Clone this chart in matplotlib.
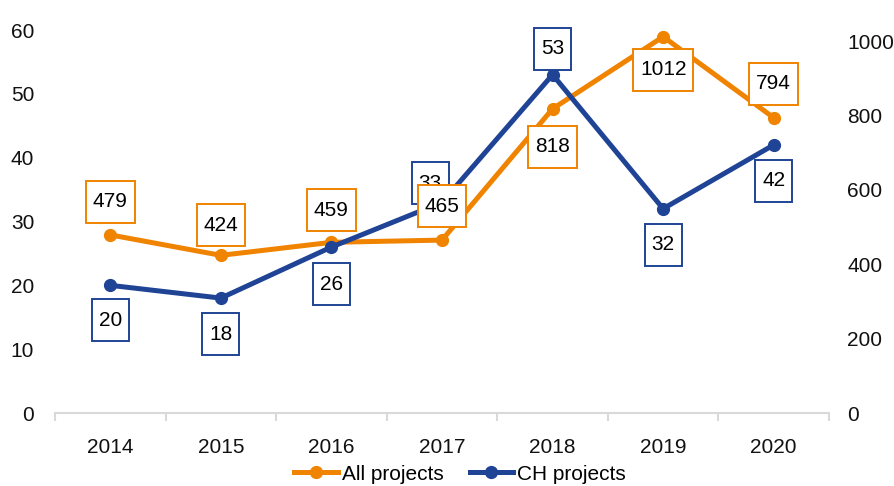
import matplotlib
matplotlib.use("Agg")
import matplotlib.pyplot as plt
import numpy as np
from matplotlib.lines import Line2D
from matplotlib.path import Path

years = ["2014", "2015", "2016", "2017", "2018", "2019", "2020"]
all_projects = [479, 424, 459, 465, 818, 1012, 794]
ch_projects = [20, 18, 26, 33, 53, 32, 42]
left_ticks = [0, 10, 20, 30, 40, 50, 60]
right_ticks = [0, 200, 400, 600, 800, 1000]

ORANGE = "#F08300"
BLUE = "#1F4395"

plt.rcParams["font.family"] = ["Liberation Sans", "DejaVu Sans"]


class HVBox:
    """Rectangular label box with separate horizontal/vertical padding."""
    def __init__(self, padx, pady):
        self.padx = padx
        self.pady = pady

    def __call__(self, x0, y0, width, height, mutation_size):
        px = self.padx * mutation_size
        py = self.pady * mutation_size
        x1, y1 = x0 + width + px, y0 + height + py
        xa, ya = x0 - px, y0 - py
        return Path([(xa, ya), (x1, ya), (x1, y1), (xa, y1), (xa, ya)],
                    closed=True)


fig = plt.figure(figsize=(8.94, 4.86), dpi=100)
W, H = 894, 486
ax = fig.add_axes([55 / W, (H - 413) / H, (829 - 55) / W, (413 - 30) / H])
ax2 = ax.twinx()

x = np.arange(len(years))
RMAX = 1030

ax2.plot(x, all_projects, color=ORANGE, lw=3.6, marker="o", ms=8.5, zorder=2)
ax.plot(x, ch_projects, color=BLUE, lw=3.6, marker="o", ms=8.5, zorder=3)

ax.set_ylim(0, 60)
ax2.set_ylim(0, RMAX)
ax.set_xlim(-0.5, len(years) - 0.5)
ax.set_yticks(left_ticks)
ax2.set_yticks(right_ticks)
ax.set_xticks(x)
ax.set_xticklabels(years)
ax.set_xticks(np.arange(-0.5, len(years), 1), minor=True)

FS = 15
for a in (ax, ax2):
    for s in ["top", "left", "right", "bottom"]:
        a.spines[s].set_visible(False)
ax.spines["bottom"].set_visible(True)
ax.spines["bottom"].set_color("#d9d9d9")
ax.spines["bottom"].set_linewidth(1.5)
ax.tick_params(axis="x", which="major", length=0, pad=18, labelsize=FS, colors="#111111")
ax.tick_params(axis="x", which="minor", length=6, width=1.5, color="#d9d9d9")
ax.tick_params(axis="y", length=0, pad=15, labelsize=FS, labelcolor="#111111")
ax2.tick_params(axis="y", length=0, pad=13, labelsize=FS, labelcolor="#111111")

ax.set_zorder(ax2.get_zorder() + 1)
ax.patch.set_visible(False)

orange_off = [(0, 33), (0, 30), (0, 32), (0, 34), (0, -38), (0, -33), (0, 34)]
blue_off = [(0, -35), (0, -36), (0, -37), (-12, 19), (0, 26), (0, -36), (0, -36)]

box = HVBox(0.33, 0.55)
for i, (v, off) in enumerate(zip(ch_projects, blue_off)):
    ax.annotate(str(v), (x[i], v), xytext=off, textcoords="offset pixels",
                ha="center", va="center", fontsize=FS, color="black", zorder=5,
                bbox=dict(boxstyle=box, fc="white", ec=BLUE, lw=1.4))
for i, (v, off) in enumerate(zip(all_projects, orange_off)):
    ax.annotate(str(v), (x[i], v * 60 / RMAX), xytext=off, textcoords="offset pixels",
                ha="center", va="center", fontsize=FS, color="black", zorder=6,
                bbox=dict(boxstyle=box, fc="white", ec=ORANGE, lw=1.4))

handles = [Line2D([], [], color=ORANGE, lw=3.6, marker="o", ms=8.5),
           Line2D([], [], color=BLUE, lw=3.6, marker="o", ms=8.5)]
fig.legend(handles, ["All projects", "CH projects"], loc="center",
           bbox_to_anchor=(460 / W, 1 - 474 / H), ncol=2, frameon=False,
           fontsize=FS, handlelength=2.1, handletextpad=0.2, columnspacing=1.25,
           borderpad=0, borderaxespad=0)

fig.savefig("out.png", dpi=100)
